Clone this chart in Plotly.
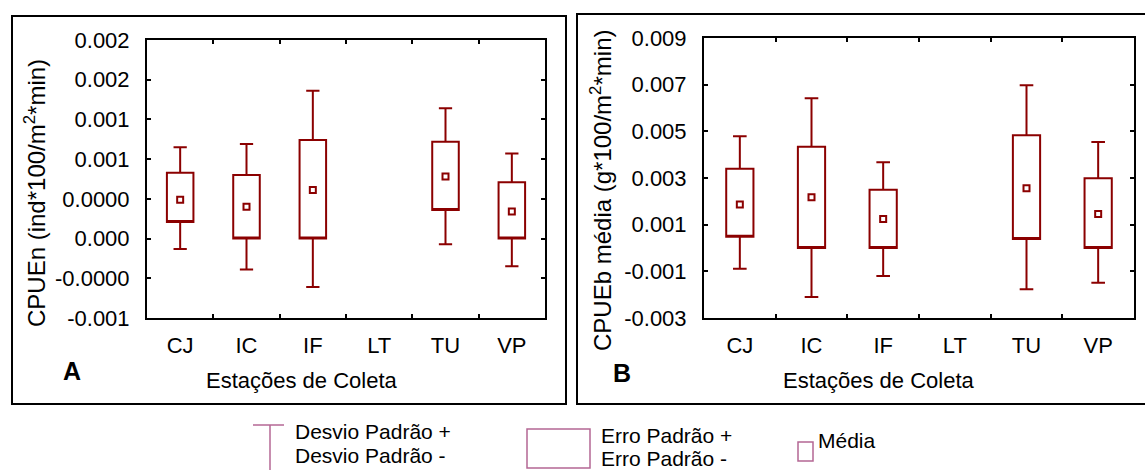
import plotly.graph_objects as go

W, H = 1145, 470

# ---------------- data ----------------
stations = ["CJ", "IC", "IF", "LT", "TU", "VP"]

# Panel A: CPUEn (ind*100/m2*min)  -- LT has no data
a_mean   = [0.00049, 0.00040, 0.00061, None, 0.00078, 0.00034]
a_se_lo  = [0.00021, 0.00000, 0.00000, None, 0.00036, 0.00000]
a_se_hi  = [0.00083, 0.00080, 0.00124, None, 0.00122, 0.00071]
a_sd_lo  = [-0.00013, -0.00039, -0.00061, None, -0.00007, -0.00035]
a_sd_hi  = [0.00115, 0.00119, 0.00186, None, 0.00164, 0.00107]

# Panel B: CPUEb média (g*100/m2*min)
b_mean   = [0.00186, 0.00217, 0.00124, None, 0.00256, 0.00146]
b_se_lo  = [0.00048, 0.00000, 0.00000, None, 0.00039, 0.00000]
b_se_hi  = [0.00340, 0.00434, 0.00250, None, 0.00483, 0.00299]
b_sd_lo  = [-0.00089, -0.00210, -0.00120, None, -0.00177, -0.00149]
b_sd_hi  = [0.00479, 0.00642, 0.00367, None, 0.00697, 0.00454]

a_tickvals = [-0.001, -0.0005, 0.0, 0.0005, 0.001, 0.0015, 0.002, 0.0025]
a_ticktext = ["-0.001", "-0.0000", "0.000", "0.0000", "0.001", "0.001", "0.002", "0.002"]
b_tickvals = [-0.003, -0.001, 0.001, 0.003, 0.005, 0.007, 0.009]
b_ticktext = ["-0.003", "-0.001", "0.001", "0.003", "0.005", "0.007", "0.009"]

DARK = "#8b0000"
MAUVE = "#b46794"
FONT = "Liberation Sans, Arial, sans-serif"


def px(x):
    return x / W


def py(y):
    return 1 - y / H


def keep(vals, ref):
    return [v for v, r in zip(vals, ref) if r is not None]


fig = go.Figure()

for idx, (mean, se_lo, se_hi, sd_lo, sd_hi, bw) in enumerate([
    (a_mean, a_se_lo, a_se_hi, a_sd_lo, a_sd_hi, 0.40),
    (b_mean, b_se_lo, b_se_hi, b_sd_lo, b_sd_hi, 0.38),
]):
    ax = "" if idx == 0 else "2"
    cats = keep(stations, mean)
    fig.add_trace(go.Box(
        x=cats,
        q1=keep(se_lo, mean), median=keep(se_lo, mean), q3=keep(se_hi, mean),
        lowerfence=keep(sd_lo, mean), upperfence=keep(sd_hi, mean),
        boxpoints=False, width=bw, whiskerwidth=0.5,
        line=dict(color=DARK, width=2), fillcolor="white",
        xaxis="x" + ax, yaxis="y" + ax, showlegend=False, hoverinfo="skip",
    ))
    fig.add_trace(go.Scatter(
        x=cats, y=keep(mean, mean), mode="markers",
        marker=dict(symbol="square", size=6, color="white",
                    line=dict(color=DARK, width=2)),
        xaxis="x" + ax, yaxis="y" + ax, showlegend=False, hoverinfo="skip",
    ))

common_x = dict(type="category", categoryorder="array", categoryarray=stations,
                range=[-0.5, 5.5], tickson="boundaries", ticks="inside", ticklen=4,
                tickwidth=1.5, tickcolor="black", showline=True, linecolor="black",
                linewidth=2, mirror="ticks", showgrid=False, zeroline=False,
                automargin=False,
                tickfont=dict(family=FONT, size=22, color="black"),
                ticklabelstandoff=7, fixedrange=True)
common_y = dict(ticks="inside", ticklen=4, tickwidth=1.5, tickcolor="black",
                showline=True, linecolor="black", linewidth=2, mirror="ticks",
                showgrid=False, zeroline=False, automargin=False,
                tickfont=dict(family=FONT, size=22, color="black"),
                ticklabelstandoff=11, fixedrange=True)

fig.update_layout(
    template="none",
    autosize=False,
    width=W, height=H,
    margin=dict(l=0, r=0, t=0, b=0, pad=0, autoexpand=False),
    paper_bgcolor="white", plot_bgcolor="white",
    xaxis=dict(common_x, domain=[px(147), px(545)], anchor="y"),
    yaxis=dict(common_y, domain=[py(318), py(40)], anchor="x",
               range=[-0.001, 0.0025], tickvals=a_tickvals, ticktext=a_ticktext),
    xaxis2=dict(common_x, domain=[px(704), px(1134)], anchor="y2"),
    yaxis2=dict(common_y, domain=[py(318), py(38)], anchor="x2",
                range=[-0.003, 0.009], tickvals=b_tickvals, ticktext=b_ticktext),
)

shapes = [
    # panel frames
    dict(type="rect", xref="paper", yref="paper", x0=px(12), x1=px(566), y0=py(404), y1=py(16),
         line=dict(color="black", width=2)),
    dict(type="rect", xref="paper", yref="paper", x0=px(577), x1=px(1150), y0=py(404), y1=py(14),
         line=dict(color="black", width=2)),
    # legend glyphs
    dict(type="line", xref="paper", yref="paper", x0=px(253), x1=px(284), y0=py(425), y1=py(425),
         line=dict(color=MAUVE, width=1.5)),
    dict(type="line", xref="paper", yref="paper", x0=px(270), x1=px(270), y0=py(425), y1=py(472),
         line=dict(color=MAUVE, width=1.5)),
    dict(type="rect", xref="paper", yref="paper", x0=px(527), x1=px(590), y0=py(468), y1=py(429),
         line=dict(color=MAUVE, width=1.5)),
    dict(type="rect", xref="paper", yref="paper", x0=px(798), x1=px(813), y0=py(461), y1=py(442),
         line=dict(color=MAUVE, width=1.5)),
]
fig.update_layout(shapes=shapes)


def ann(text, x, y, size=22, xanchor="center", angle=0, bold=False):
    if bold:
        text = "<b>" + text + "</b>"
    fig.add_annotation(text=text, x=px(x), y=py(y), xref="paper", yref="paper",
                       showarrow=False, xanchor=xanchor, yanchor="middle",
                       textangle=angle, font=dict(family=FONT, size=size, color="black"))


ann("CPUEn (ind*100/m<sup>2</sup>*min)", 35, 193, size=24, angle=-90)
ann("CPUEb média (g*100/m<sup>2</sup>*min)", 601, 191, size=24, angle=-90)
ann("Estações de Coleta", 302, 380)
ann("Estações de Coleta", 879, 380)
ann("A", 72, 371, size=25, bold=True)
ann("B", 622, 373, size=25, bold=True)

ann("Desvio Padrão +", 293, 431, size=21, xanchor="left")
ann("Desvio Padrão -", 293, 455, size=21, xanchor="left")
ann("Erro Padrão +", 599, 435, size=21, xanchor="left")
ann("Erro Padrão -", 599, 458, size=21, xanchor="left")
ann("Média", 816, 440, size=21, xanchor="left")

fig.write_html(
    "out.html",
    config={"displayModeBar": False, "responsive": False},
    post_script=(
        "var s=document.createElement('style');"
        "s.innerHTML='html,body{margin:0;padding:0;overflow:hidden;}';"
        "document.head.appendChild(s);"
    ),
)
